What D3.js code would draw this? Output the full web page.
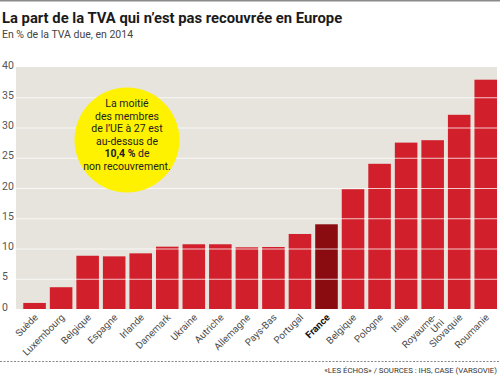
<!DOCTYPE html>
<meta charset="utf-8">
<style>
  body { margin: 0; background: #fff; }
  text { font-family: Roboto, "Liberation Sans", sans-serif; }
</style>
<svg width="500" height="375"></svg>
<script src="https://cdn.jsdelivr.net/npm/d3@7"></script>
<script>

var countries = ["Suède", "Luxembourg", "Belgique", "Espagne", "Irlande", "Danemark", "Ukraine", "Autriche",
                 "Allemagne", "Pays-Bas", "Portugal", "France", "Belgique", "Pologne", "Italie", "Royaume-\nUni",
                 "Slovaquie", "Roumanie"];
var gapPct = [1.0, 3.6, 8.8, 8.7, 9.2, 10.3, 10.7, 10.7, 10.2, 10.25, 12.4, 14.0, 19.8, 24.0, 27.5, 27.9, 32.1, 37.9];
var yTicks = [0, 5, 10, 15, 20, 25, 30, 35, 40];
var bubbleLines = ["La moitié", "des membres", "de l’UE à 27 est", "au-dessus de", "10,4 %| de", "non recouvrement."];

var svg = d3.select("svg"),
    panel = {left: 16, right: 497, top: 67, bottom: 309};

var x = d3.scaleBand()
    .domain(d3.range(countries.length))
    .range([21.3, 499])
    .paddingInner(0.15)
    .paddingOuter(0.075);

var y = d3.scaleLinear()
    .domain([0, 40])
    .range([panel.bottom, panel.top]);

// top rule
svg.append("line")
    .attr("x1", 0).attr("x2", 500).attr("y1", 0.5).attr("y2", 0.5)
    .attr("stroke", "#8a8a8a").attr("stroke-width", 2);

svg.append("text")
    .attr("x", 2).attr("y", 23)
    .attr("font-size", 14.8).attr("font-weight", "bold").attr("fill", "#1a1a1a")
    .text("La part de la TVA qui n’est pas recouvrée en Europe");

svg.append("text")
    .attr("x", 2).attr("y", 38)
    .attr("font-size", 10.5).attr("fill", "#444")
    .text("En % de la TVA due, en 2014");

// panel
svg.append("rect")
    .attr("x", panel.left).attr("y", panel.top)
    .attr("width", panel.right - panel.left).attr("height", panel.bottom - panel.top)
    .attr("fill", "#e6e4dd");

// bars
svg.append("g").selectAll("rect")
  .data(gapPct)
  .enter().append("rect")
    .attr("x", function(d, i) { return x(i); })
    .attr("y", function(d) { return y(d); })
    .attr("width", x.bandwidth())
    .attr("height", function(d) { return y(0) - y(d); })
    .attr("fill", function(d, i) { return countries[i] == "France" ? "#8a0b10" : "#d1202b"; });

// grid + y labels
var yAxis = svg.append("g")
    .attr("transform", "translate(" + panel.left + ",0)")
    .call(d3.axisLeft(y).tickValues(yTicks).tickSize(-(panel.right - panel.left)).tickPadding(0));
yAxis.select(".domain").remove();
yAxis.selectAll(".tick line")
    .attr("stroke", "#fff").attr("stroke-opacity", 0.75).attr("stroke-width", 1);
yAxis.selectAll(".tick").filter(function(d) { return d === 0 || d === 40; }).select("line").remove();
yAxis.selectAll(".tick text")
    .attr("x", -14).attr("dy", "0.1em")
    .attr("text-anchor", "start")
    .attr("font-family", "Roboto, sans-serif")
    .attr("font-size", 10.5).attr("fill", "#555");

// x labels
var xl = svg.append("g").selectAll("text")
  .data(countries)
  .enter().append("text")
    .attr("transform", function(d, i) {
      return "translate(" + (x(i) + x.bandwidth() / 2 + 4) + ",318) rotate(-45)";
    })
    .attr("text-anchor", "end")
    .attr("font-size", 9.8)
    .attr("font-weight", function(d) { return d == "France" ? "bold" : "normal"; })
    .attr("fill", function(d) { return d == "France" ? "#111" : "#4a4a4a"; });
xl.each(function(d) {
  var parts = d.split("\n"), t = d3.select(this);
  parts.forEach(function(p, k) {
    t.append("tspan").attr("x", k == 0 ? 0 : 2).attr("dy", k == 0 ? 0 : "0.95em").text(p);
  });
});

// yellow bubble
var bubble = svg.append("g").attr("transform", "translate(127,140)");
bubble.append("circle").attr("r", 52.5).attr("fill", "#fff200");
bubbleLines.forEach(function(line, k) {
  var t = bubble.append("text")
      .attr("y", -37 + k * 12.5 + 4)
      .attr("text-anchor", "middle")
      .attr("font-size", 10.5).attr("fill", "#222");
  var parts = line.split("|");
  if (parts.length > 1) {
    t.append("tspan").attr("font-weight", "bold").text(parts[0]);
    t.append("tspan").text(parts[1]);
  } else {
    t.text(line);
  }
});

// footer
svg.append("line")
    .attr("x1", 0).attr("x2", 500).attr("y1", 361.5).attr("y2", 361.5)
    .attr("stroke", "#888").attr("stroke-dasharray", "2,1.5");

svg.append("text")
    .attr("x", 497).attr("y", 373)
    .attr("text-anchor", "end")
    .attr("font-size", 7.8).attr("fill", "#333")
    .text("«LES ÉCHOS»  / SOURCES : IHS, CASE (VARSOVIE)");

</script>
